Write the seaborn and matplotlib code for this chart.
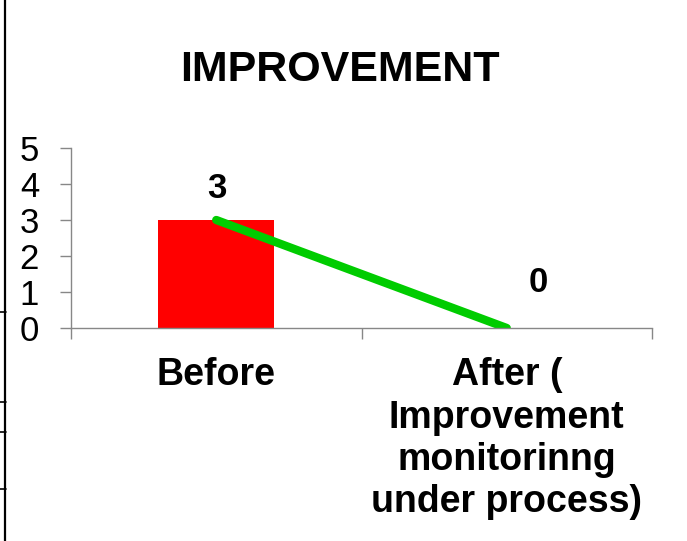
import matplotlib
matplotlib.use("Agg")
import matplotlib.pyplot as plt
from matplotlib.lines import Line2D
import seaborn as sns

# data
categories = ["Before", "After (\nImprovement\nmonitorinng\nunder process)"]
values = [3, 0]
label_text = ["3", "0"]
y_ticks = [0, 1, 2, 3, 4, 5]

sns.set_style("white")
plt.rcParams["font.family"] = ["Liberation Sans", "DejaVu Sans"]
plt.rcParams["text.color"] = "black"

W, H = 687, 541
fig = plt.figure(figsize=(W / 100, H / 100), dpi=100)
ax = fig.add_axes([71 / W, 1 - 328 / H, 581 / W, 180 / H])

axis_grey = "#878787"

# bars
sns.barplot(x=categories, y=values, color="#FF0000", width=0.4,
            saturation=1, linewidth=0, ax=ax)

# green trend line between category centres
pos = list(range(len(categories)))
sns.lineplot(x=pos, y=values, color="#00CC00", linewidth=6,
             solid_capstyle="round", ax=ax)

ax.set_xlim(-0.5, len(categories) - 0.5)
ax.set_ylim(0, 5)
ax.set_yticks(y_ticks)
ax.set_yticklabels([str(t) for t in y_ticks], fontsize=25, color="black")
ax.tick_params(axis="y", direction="out", length=8, width=1,
               color=axis_grey, pad=15, left=True)

ax.set_xticks(pos)
ax.set_xticklabels(categories, fontsize=27, fontweight="bold",
                   linespacing=1.23, color="black")
ax.tick_params(axis="x", which="major", length=0, pad=21)
ax.set_xticks([p - 0.5 for p in pos] + [pos[-1] + 0.5], minor=True)
ax.tick_params(axis="x", which="minor", direction="out", length=8,
               width=1, color=axis_grey, bottom=True)

for side in ["top", "right"]:
    ax.spines[side].set_visible(False)
for side in ["left", "bottom"]:
    ax.spines[side].set_color(axis_grey)
    ax.spines[side].set_linewidth(1)
ax.set_xlabel("")
ax.set_ylabel("")

# data labels
offsets = [(1, 31), (31, 45)]
for p, v, t, off in zip(pos, values, label_text, offsets):
    ax.annotate(t, (p, v), xytext=off, textcoords="offset pixels",
                ha="center", va="center", fontsize=25, fontweight="bold",
                color="black")

fig.text(340 / W, 1 - 70 / H, "IMPROVEMENT", ha="center", va="center",
         fontsize=31, fontweight="bold", color="black")

# table border fragments along the left edge
fig.add_artist(Line2D([5 / W, 5 / W], [0, 1], color="black", linewidth=1.6))
for yy in [312, 402, 432, 489]:
    fig.add_artist(Line2D([0, 6 / W], [1 - yy / H, 1 - yy / H],
                          color="black", linewidth=1.2))

fig.savefig("out.png", dpi=100)
